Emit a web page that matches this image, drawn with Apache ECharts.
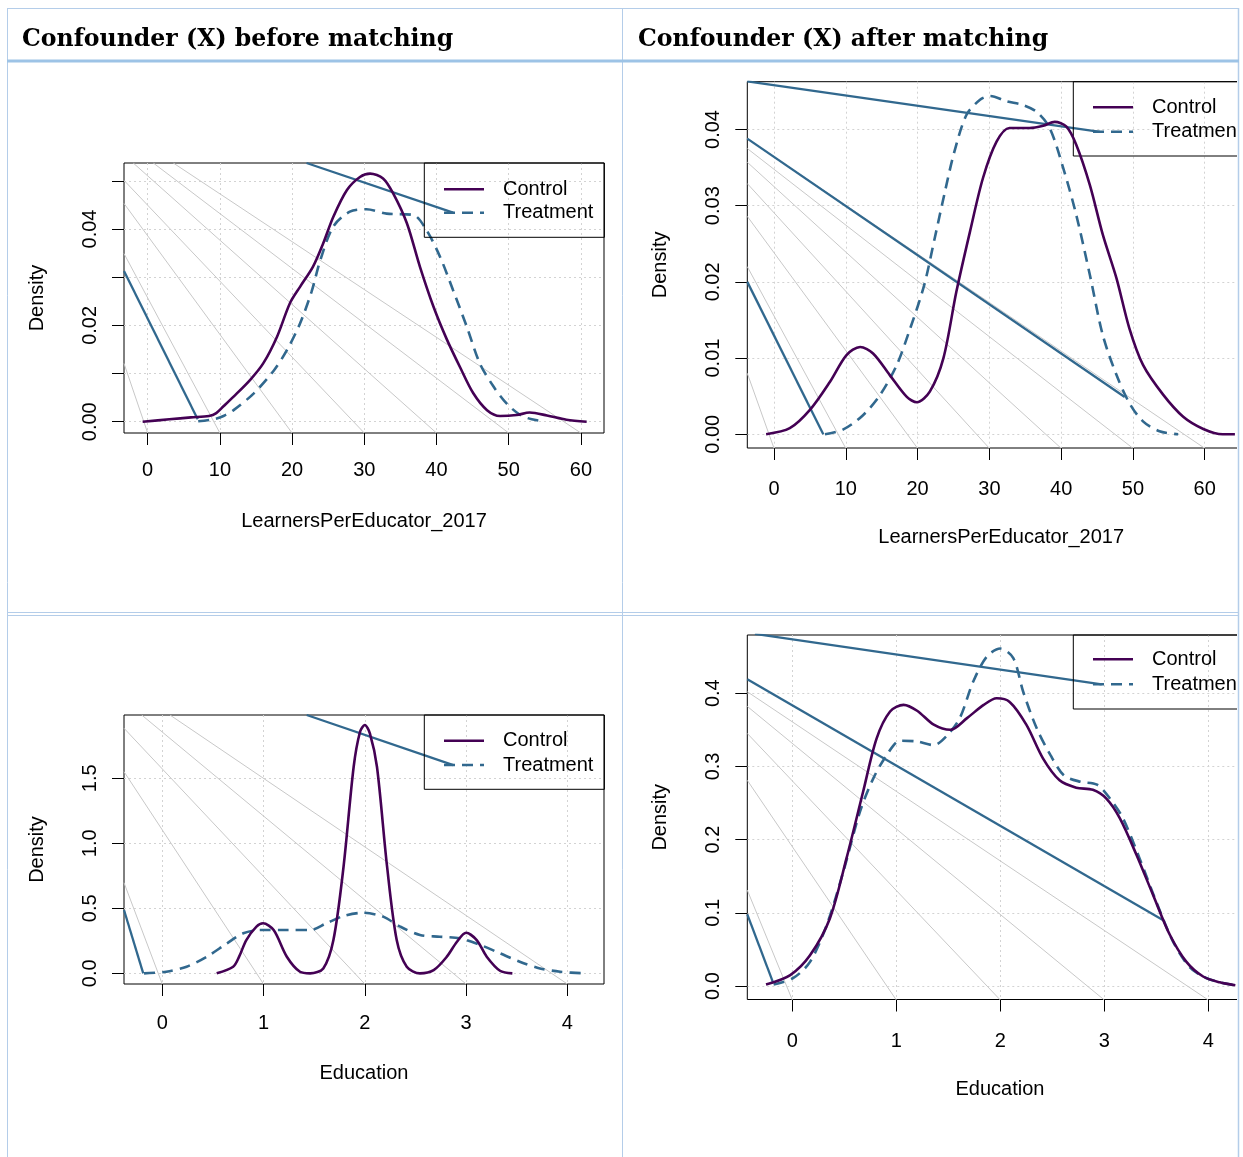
<!DOCTYPE html>
<html><head><meta charset="utf-8">
<script src="https://cdn.jsdelivr.net/npm/echarts@6/dist/echarts.min.js"></script>
<style>html,body{margin:0;padding:0;background:#fff}#c{width:1243px;height:1157px}</style>
</head><body><div id="c"></div><script>
// ---------- texts ----------
const panelTitles = ['Confounder (X) before matching', 'Confounder (X) after matching'];
const legendNames = ['Control', 'Treatment'];
const xAxisTitles = ['LearnersPerEducator_2017', 'LearnersPerEducator_2017', 'Education', 'Education'];
const yAxisTitle = 'Density';

// ---------- ticks ----------
const p1XTicks = [0, 10, 20, 30, 40, 50, 60];
const p1YTicks = [0, 0.01, 0.02, 0.03, 0.04, 0.05];
const p1YLabels = [0, 0.02, 0.04];
const p2XTicks = [0, 10, 20, 30, 40, 50, 60];
const p2YTicks = [0, 0.01, 0.02, 0.03, 0.04];
const p2YLabels = [0, 0.01, 0.02, 0.03, 0.04];
const p3XTicks = [0, 1, 2, 3, 4];
const p3YTicks = [0, 0.5, 1.0, 1.5];
const p3YLabels = [0, 0.5, 1.0, 1.5];
const p4XTicks = [0, 1, 2, 3, 4];
const p4YTicks = [0, 0.1, 0.2, 0.3, 0.4];
const p4YLabels = [0, 0.1, 0.2, 0.3, 0.4];

// ---------- density curves ----------
const p1Control = [[-0.7,0],[3,0.0005],[6,0.0009],[8.5,0.0012],[9.5,0.0018],[10.5,0.0032],[11.9,0.0052],[14.2,0.0087],[16,0.0121],[17.9,0.0176],[19.7,0.0246],[21.1,0.028],[22.9,0.0322],[24.3,0.037],[25.7,0.0425],[27.6,0.0481],[29.4,0.0508],[30.8,0.0515],[32.6,0.0505],[34.0,0.0474],[35.9,0.0412],[37.7,0.0322],[39.6,0.0238],[41.4,0.0172],[43.3,0.0112],[45.1,0.0059],[47.0,0.0024],[48.8,0.0012],[51.1,0.0014],[52.9,0.0019],[55.3,0.0013],[58.0,0.0004],[60.8,0]];
const p1Treatment = [[7.0,0.0001],[9.1,0.0005],[10.5,0.0012],[11.9,0.0024],[14.7,0.0059],[17.5,0.0107],[19.3,0.0149],[21.1,0.0204],[22.7,0.027],[23.9,0.0335],[25.7,0.0405],[28.0,0.0436],[30.3,0.0441],[33.1,0.0432],[36.8,0.0429],[38.6,0.0398],[40.5,0.0342],[42.3,0.0273],[44.2,0.0197],[46.0,0.0121],[47.9,0.0073],[49.7,0.0038],[51.6,0.0014],[53.2,0.0005],[54.8,0.0001]];
const p2Control = [[-1.1,0],[2.2,0.0008],[5.0,0.0032],[7.8,0.0069],[10.1,0.0104],[12.0,0.01146],[13.8,0.0106],[16.1,0.0078],[18.5,0.0049],[19.9,0.0042],[21.7,0.0056],[23.6,0.0100],[25.4,0.0187],[27.3,0.0266],[29.1,0.0336],[31.0,0.0384],[32.8,0.0402],[35.6,0.0402],[37.5,0.0405],[39.1,0.0410],[40.7,0.0404],[42.1,0.038],[44.0,0.0327],[45.8,0.0262],[47.7,0.0205],[49.5,0.0139],[51.4,0.0091],[54.2,0.0052],[57.0,0.0023],[59.8,0.0007],[62.5,0],[64.2,0]];
const p2Treatment = [[7.1,0],[9.6,0.0006],[12.4,0.0025],[14.8,0.0052],[17.1,0.0091],[18.9,0.0137],[20.9,0.0195],[22.4,0.0258],[23.8,0.0318],[25.1,0.0370],[26.8,0.0419],[28.7,0.0439],[30.1,0.0444],[32.4,0.0437],[34.7,0.0432],[36.6,0.0423],[38.4,0.0402],[40.3,0.0349],[42.1,0.0288],[44.0,0.0209],[45.8,0.0130],[47.7,0.0078],[49.5,0.0041],[51.4,0.0017],[53.7,0.0004],[56.3,0]];
const p3Control = [[0.537,0],[0.70,0.051],[0.76,0.13],[0.83,0.256],[0.93,0.359],[0.995,0.385],[1.10,0.333],[1.23,0.128],[1.36,0.012],[1.46,0],[1.59,0.038],[1.69,0.256],[1.79,0.82],[1.89,1.589],[1.953,1.858],[2.0,1.91],[2.05,1.846],[2.12,1.589],[2.22,0.82],[2.315,0.256],[2.414,0.051],[2.545,0],[2.68,0.025],[2.81,0.128],[2.91,0.243],[3.0,0.312],[3.105,0.256],[3.204,0.128],[3.335,0.02],[3.457,0]];
const p3Treatment = [[-0.18,0],[0.04,0.012],[0.24,0.051],[0.44,0.128],[0.64,0.231],[0.80,0.308],[0.965,0.333],[1.23,0.333],[1.46,0.333],[1.62,0.385],[1.79,0.441],[1.985,0.466],[2.18,0.436],[2.35,0.359],[2.545,0.295],[2.74,0.282],[2.94,0.269],[3.14,0.218],[3.335,0.154],[3.53,0.089],[3.73,0.038],[3.93,0.012],[4.175,0]];
const p4Control = [[-0.253,0.002],[-0.02,0.015],[0.17,0.042],[0.36,0.092],[0.52,0.174],[0.68,0.265],[0.81,0.338],[0.94,0.375],[1.07,0.384],[1.20,0.376],[1.36,0.357],[1.52,0.350],[1.68,0.366],[1.84,0.384],[1.965,0.393],[2.09,0.388],[2.25,0.357],[2.41,0.311],[2.57,0.281],[2.73,0.271],[2.89,0.268],[3.02,0.256],[3.15,0.229],[3.31,0.179],[3.47,0.124],[3.63,0.070],[3.79,0.033],[3.95,0.013],[4.11,0.005],[4.26,0.001]];
const p4Treatment = [[-0.18,0.002],[0.01,0.011],[0.17,0.033],[0.33,0.083],[0.49,0.156],[0.65,0.238],[0.78,0.284],[0.91,0.316],[1.035,0.335],[1.20,0.334],[1.36,0.329],[1.48,0.341],[1.61,0.366],[1.74,0.416],[1.87,0.450],[2.0,0.461],[2.125,0.448],[2.22,0.402],[2.35,0.352],[2.48,0.316],[2.61,0.288],[2.77,0.279],[2.93,0.275],[3.055,0.256],[3.18,0.229],[3.34,0.174],[3.50,0.115],[3.66,0.061],[3.82,0.026],[3.98,0.011],[4.14,0.004],[4.26,0.001]];

// ---------- stray straight segments seen in the picture ----------
const p1Stray = [[[-3.28,0.0313],[6.93,0.0005]], [[22.0,0.0537],[42.3,0.0434]]];
const p2Stray = [[[-3.72,0.0463],[45.4,0.0397]], [[-3.72,0.0388],[48.85,0.0049]], [[-3.72,0.0200],[6.86,0]]];
const p3Stray = [[[1.426,1.987],[2.874,1.602]], [[-0.378,0.487],[-0.188,0]]];
const p4Stray = [[[-0.36,0.481],[2.975,0.412]], [[-0.433,0.419],[3.567,0.090]], [[-0.433,0.098],[-0.183,0.004]]];

const p1Fan = [[[-3.28,0.0121],[0,-0.00234]], [[-3.28,0.0349],[10,-0.00234]], [[-3.28,0.0453],[20,-0.00234]], [[-3.28,0.0501],[30,-0.00234]], [[-2.0,0.0537],[40,-0.00234]], [[0.78,0.0537],[50,-0.00234]], [[3.55,0.0537],[60,-0.00234]]];
const p2Fan = [[[-3.72,0.0080],[0,-0.00184]], [[-3.72,0.0220],[10,-0.00184]], [[-3.72,0.0286],[20,-0.00184]], [[-3.72,0.0329],[30,-0.00184]], [[-3.72,0.0357],[40,-0.00184]], [[-3.72,0.0375],[50,-0.00184]], [[-3.72,0.0388],[60,-0.00184]]];
const p3Fan = [[[-0.378,0.697],[0,-0.082]], [[-0.378,1.551],[1,-0.082]], [[-0.378,1.885],[2,-0.082]], [[-0.203,1.987],[3,-0.082]], [[0.076,1.987],[4,-0.082]]];
const p4Fan = [[[-0.433,0.131],[0,-0.0191]], [[-0.433,0.281],[1,-0.0191]], [[-0.433,0.345],[2,-0.0191]], [[-0.433,0.382],[3,-0.0191]], [[-0.433,0.402],[4,-0.0191]]];

// ---------- panel layout ----------
const panels = [
  {grid:{left:124, top:163, width:480, height:270}, xr:[-3.28,63.2], yr:[-0.00234,0.0537],
   xt:p1XTicks, yt:p1YTicks, yl:p1YLabels, yd:2, c:p1Control, t:p1Treatment, stray:p1Stray, fan:p1Fan,
   xm:27, xg:78, leg:{left:424.3, top:163, gap:1.4, pad:[15.3,11,13.6,18.4]}},
  {grid:{left:747.3, top:81.7, width:507.7, height:366.3}, xr:[-3.72,67.0], yr:[-0.0018,0.04627],
   xt:p2XTicks, yt:p2YTicks, yl:p2YLabels, yd:2, c:p2Control, t:p2Treatment, stray:p2Stray, fan:p2Fan,
   xm:31, xg:79, leg:{left:1073.3, top:81.7, gap:2.4, pad:[14.6,11,13.3,18.4]}},
  {grid:{left:124, top:715, width:480, height:269}, xr:[-0.378,4.362], yr:[-0.082,1.987],
   xt:p3XTicks, yt:p3YTicks, yl:p3YLabels, yd:1, c:p3Control, t:p3Treatment, stray:p3Stray, fan:p3Fan,
   xm:29, xg:79, leg:{left:424.3, top:715, gap:2.3, pad:[14.7,11,13.3,18.4]}},
  {grid:{left:747.3, top:635, width:505.4, height:364.5}, xr:[-0.433,4.427], yr:[-0.0184,0.4795],
   xt:p4XTicks, yt:p4YTicks, yl:p4YLabels, yd:1, c:p4Control, t:p4Treatment, stray:p4Stray, fan:p4Fan,
   xm:32, xg:80, leg:{left:1073.3, top:635, gap:3, pad:[13.3,11,13.7,18.4]}}
];

const FONT = 'Liberation Sans';
const CONTROL_COLOR = '#440154';
const TREAT_COLOR = '#31688E';

const grids = [], xAxes = [], yAxes = [], series = [], legends = [];
panels.forEach((p, i) => {
  grids.push(Object.assign({show:true, borderColor:'#000', borderWidth:1, backgroundColor:'transparent', containLabel:false, outerBoundsMode:'none'}, p.grid));
  xAxes.push({type:'value', gridIndex:i, min:p.xr[0], max:p.xr[1],
    name:xAxisTitles[i], nameLocation:'middle', nameGap:p.xg,
    nameTextStyle:{fontSize:20, fontFamily:FONT, color:'#000'},
    axisLine:{show:false, onZero:false},
    axisTick:{show:true, inside:false, length:12, customValues:p.xt, lineStyle:{color:'#000', width:1}},
    axisLabel:{show:true, margin:p.xm, customValues:p.xt, fontSize:20, fontFamily:FONT, color:'#000', formatter:v=>String(v)},
    splitLine:{show:true, lineStyle:{color:'#d3d3d3', width:1, type:[2,3]}}
  });
  yAxes.push({type:'value', gridIndex:i, min:p.yr[0], max:p.yr[1],
    name:yAxisTitle, nameLocation:'middle', nameGap:77, nameRotate:90,
    nameTextStyle:{fontSize:20, fontFamily:FONT, color:'#000'},
    axisLine:{show:false, onZero:false},
    axisTick:{show:true, inside:false, length:12, customValues:p.yt, lineStyle:{color:'#000', width:1}},
    axisLabel:{show:true, margin:24, rotate:90, customValues:p.yl, fontSize:20, fontFamily:FONT, color:'#000', formatter:v=>v.toFixed(p.yd)},
    splitLine:{show:true, lineStyle:{color:'#d3d3d3', width:1, type:[2,3]}}
  });
  p.fan.forEach(seg => series.push({type:'line', xAxisIndex:i, yAxisIndex:i, data:seg, symbol:'none', silent:true, z:1,
    lineStyle:{color:'#c8c8c8', width:1}}));
  p.stray.forEach(seg => series.push({type:'line', xAxisIndex:i, yAxisIndex:i, data:seg, symbol:'none', silent:true, z:2,
    lineStyle:{color:TREAT_COLOR, width:2.3}}));
  series.push({type:'line', name:'Treatment', xAxisIndex:i, yAxisIndex:i, data:p.t, symbol:'none', showSymbol:false, smooth:0.3, silent:true, z:3,
    lineStyle:{color:TREAT_COLOR, width:2.6, type:[11,7]}, itemStyle:{color:TREAT_COLOR}});
  series.push({type:'line', name:'Control', xAxisIndex:i, yAxisIndex:i, data:p.c, symbol:'none', showSymbol:false, smooth:0.3, silent:true, z:4,
    lineStyle:{color:CONTROL_COLOR, width:2.6}, itemStyle:{color:CONTROL_COLOR}});
  legends.push({orient:'vertical', left:p.leg.left, top:p.leg.top, data:legendNames, selectedMode:false,
    itemWidth:40, itemHeight:14, itemGap:p.leg.gap, padding:p.leg.pad,
    itemStyle:{opacity:0}, lineStyle:{width:2.6},
    borderColor:'#000', borderWidth:1, borderRadius:0, backgroundColor:'transparent',
    textStyle:{fontSize:20, fontFamily:FONT, color:'#000', lineHeight:22, padding:[0,0,0,14]}});
});

const LINE_THIN = '#B4CDE9', LINE_THICK = '#9DC3E6';
const graphic = [
  {type:'rect', shape:{x:1237, y:0, width:6, height:1157}, style:{fill:'#fff'}, z:100},
  {type:'line', shape:{x1:7, y1:8.5, x2:1239, y2:8.5}, style:{stroke:LINE_THIN, lineWidth:1}, z:101},
  {type:'line', shape:{x1:7.5, y1:8, x2:7.5, y2:1157}, style:{stroke:LINE_THIN, lineWidth:1}, z:101},
  {type:'line', shape:{x1:1238.5, y1:8, x2:1238.5, y2:1157}, style:{stroke:LINE_THIN, lineWidth:1.5}, z:101},
  {type:'line', shape:{x1:622.5, y1:8, x2:622.5, y2:1157}, style:{stroke:LINE_THIN, lineWidth:1}, z:101},
  {type:'line', shape:{x1:7, y1:61, x2:1239, y2:61}, style:{stroke:LINE_THICK, lineWidth:3}, z:101},
  {type:'line', shape:{x1:7, y1:612.5, x2:1239, y2:612.5}, style:{stroke:LINE_THIN, lineWidth:1}, z:101},
  {type:'line', shape:{x1:7, y1:615.5, x2:1239, y2:615.5}, style:{stroke:LINE_THIN, lineWidth:1}, z:101},
  {type:'text', x:22, y:39.5, style:{text:panelTitles[0], font:'bold 23.6px "DejaVu Serif"', fill:'#000', verticalAlign:'middle'}, z:101},
  {type:'text', x:638, y:39.5, style:{text:panelTitles[1], font:'bold 23.6px "DejaVu Serif"', fill:'#000', verticalAlign:'middle'}, z:101}
];

const chart = echarts.init(document.getElementById('c'), null, {renderer:'canvas', width:1243, height:1157});
chart.setOption({animation:false, backgroundColor:'#fff', grid:grids, xAxis:xAxes, yAxis:yAxes, legend:legends, series:series, graphic:graphic});
</script></body></html>
